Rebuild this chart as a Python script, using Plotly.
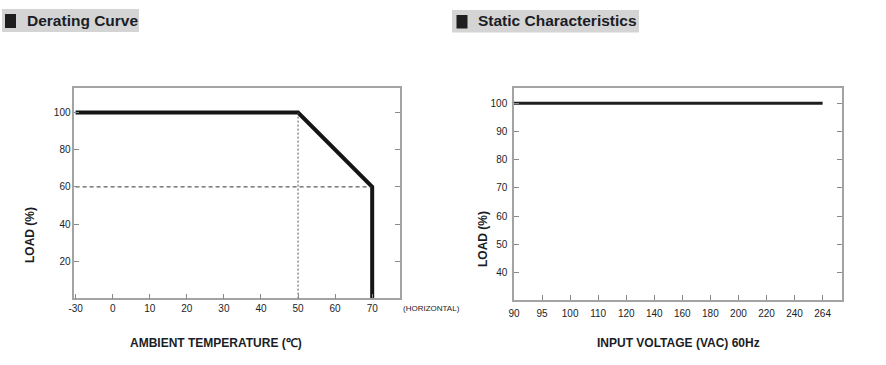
import plotly.graph_objects as go

# ---------------- data ----------------
# Derating curve: ambient temperature (°C) vs load (%)
derating_temp = [-30, 50, 70, 70]
derating_load = [100, 100, 60, 0]
temp_ticks = [-30, 0, 10, 20, 30, 40, 50, 60, 70]
load_ticks_left = [20, 40, 60, 80, 100]
ref_load = 60        # dashed guide level
ref_temp = 50        # dotted guide temperature

# Static characteristics: input voltage (VAC) vs load (%)
voltage_cats = ["90", "95", "100", "110", "120", "140", "160", "180", "200", "220", "240", "264"]
static_voltage = ["90", "264"]
static_load = [100, 100]
load_ticks_right = [40, 50, 60, 70, 80, 90, 100]

W, H = 886, 365


def tpos(t):
    """Broken temperature scale: the span below 0 °C is compressed 3:1."""
    return t if t >= 0 else t / 3.0


def px(x):
    return x / W


def py(y):
    return 1 - y / H


FONT = "Liberation Sans, Arial"
AX_COL = "#a3a3a3"
TXT = "#1b1d26"

fig = go.Figure()

fig.add_trace(go.Scatter(
    x=[tpos(t) for t in derating_temp], y=derating_load,
    mode="lines", line=dict(color="#151515", width=4),
    xaxis="x", yaxis="y", showlegend=False, hoverinfo="skip"))
fig.add_trace(go.Scatter(
    x=[tpos(temp_ticks[0]), tpos(70)], y=[ref_load, ref_load],
    mode="lines", line=dict(color="#333333", width=1, dash="4px,3px"),
    xaxis="x", yaxis="y", showlegend=False, hoverinfo="skip"))
fig.add_trace(go.Scatter(
    x=[tpos(ref_temp), tpos(ref_temp)], y=[100, 0],
    mode="lines", line=dict(color="#555555", width=1, dash="2px,2px"),
    xaxis="x", yaxis="y", showlegend=False, hoverinfo="skip"))

fig.add_trace(go.Scatter(
    x=static_voltage, y=static_load,
    mode="lines", line=dict(color="#1e1e1e", width=3),
    xaxis="x2", yaxis="y2", showlegend=False, hoverinfo="skip"))

tickfont = dict(family=FONT, size=10, color=TXT)

common_x = dict(showline=True, linecolor=AX_COL, linewidth=1.5, mirror=True,
                ticks="inside", ticklen=5, tickcolor="#8a8a8a", tickwidth=1,
                showgrid=False, zeroline=False, tickfont=tickfont, automargin=False)
common_y = dict(showline=True, linecolor=AX_COL, linewidth=1.5, mirror="ticks",
                ticks="inside", ticklen=5, tickcolor="#8a8a8a", tickwidth=1,
                showgrid=False, zeroline=False, tickfont=tickfont, automargin=False)

fig.update_layout(
    width=W, height=H, autosize=False,
    margin=dict(l=0, r=0, t=0, b=0, pad=0),
    paper_bgcolor="white", plot_bgcolor="white",
    xaxis=dict(domain=[px(74.3), px(400)], range=[-10.35, 77.5],
               tickvals=[tpos(t) for t in temp_ticks],
               ticktext=[str(t) for t in temp_ticks],
               anchor="y", ticklabelstandoff=0, **common_x),
    yaxis=dict(domain=[(H - 298.3) / H, (H - 88.3) / H], range=[0, 113.1],
               tickvals=load_ticks_left, anchor="x", ticklabelstandoff=0, **common_y),
    xaxis2=dict(domain=[px(514), px(841.7)], type="category",
                categoryorder="array", categoryarray=voltage_cats,
                tickvals=voltage_cats, range=[0, 11.68],
                anchor="y2", ticklabelstandoff=3, **common_x),
    yaxis2=dict(domain=[(H - 300) / H, (H - 88.3) / H], range=[30.2, 105.3],
                tickvals=load_ticks_right, anchor="x2", ticklabelstandoff=3, **common_y),
)

shapes = []
for (x0, x1, y0, y1), (sx0, sx1) in [((2, 139, 9, 32), (5, 16)),
                                      ((452, 639, 10, 32.5), (456.5, 467.5))]:
    shapes.append(dict(type="rect", xref="paper", yref="paper",
                       x0=px(x0), x1=px(x1), y0=py(y1), y1=py(y0),
                       fillcolor="#d4d4d4", line=dict(width=0), layer="below"))
    shapes.append(dict(type="rect", xref="paper", yref="paper",
                       x0=px(sx0), x1=px(sx1), y0=py(y1 - 4), y1=py(y0 + 5),
                       fillcolor="#1e1e1e", line=dict(width=0)))
fig.update_layout(shapes=shapes)

head_font = dict(family=FONT, size=15.5, color=TXT)
title_font = dict(family=FONT, size=12, color=TXT)
ann = [
    dict(text="<b>Derating Curve</b>", x=px(25), y=py(20.5), xanchor="left", yanchor="middle",
         font=head_font),
    dict(text="<b>Static Characteristics</b>", x=px(476), y=py(21), xanchor="left", yanchor="middle",
         font=head_font),
    dict(text="<b>LOAD (%)</b>", x=px(30), y=py(235), textangle=-90,
         xanchor="center", yanchor="middle", font=title_font),
    dict(text="<b>LOAD (%)</b>", x=px(483), y=py(239), textangle=-90,
         xanchor="center", yanchor="middle", font=title_font),
    dict(text="<b>AMBIENT TEMPERATURE (℃)</b>", x=px(216), y=py(343),
         xanchor="center", yanchor="middle", font=title_font),
    dict(text="<b>INPUT VOLTAGE (VAC) 60Hz</b>", x=px(678), y=py(343),
         xanchor="center", yanchor="middle", font=title_font),
    dict(text="(HORIZONTAL)", x=px(431), y=py(308),
         xanchor="center", yanchor="middle", font=dict(family=FONT, size=8, color=TXT)),
]
for a in ann:
    a.update(xref="paper", yref="paper", showarrow=False)
fig.update_layout(annotations=ann)

fig.write_html(
    "out.html",
    config={"displayModeBar": False},
    post_script="document.body.style.margin='0';document.body.style.overflow='hidden';",
)
